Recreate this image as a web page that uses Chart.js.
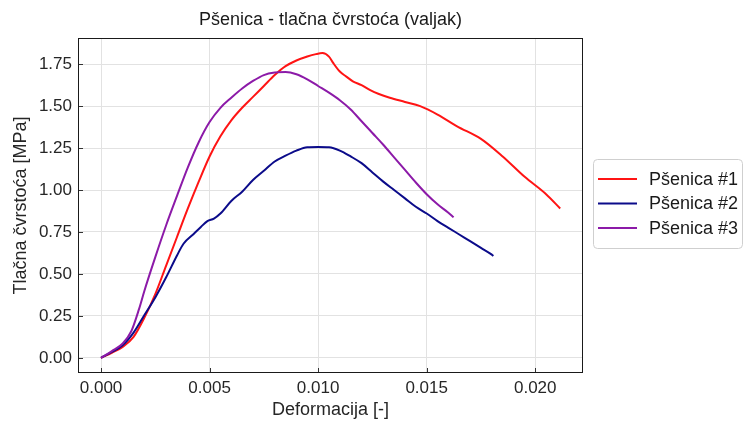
<!DOCTYPE html>
<html>
<head>
<meta charset="utf-8">
<script src="https://cdn.jsdelivr.net/npm/chart.js@4.4.1/dist/chart.umd.min.js"></script>
<style>
  html, body { margin: 0; padding: 0; background: #ffffff; }
  #wrap { width: 745px; height: 421px; }
</style>
</head>
<body>
<div id="wrap"><canvas id="c" width="745" height="421"></canvas></div>
<script>
// Texts
const chartTitle = 'Pšenica - tlačna čvrstoća (valjak)';
const xAxisLabel = 'Deformacija [-]';
const yAxisLabel = 'Tlačna čvrstoća [MPa]';
const seriesNames = ['Pšenica #1', 'Pšenica #2', 'Pšenica #3'];

// Tick values
const xTicks = [0.000, 0.005, 0.010, 0.015, 0.020];
const yTicks = [0.00, 0.25, 0.50, 0.75, 1.00, 1.25, 1.50, 1.75];

// Sample 1: strain [-] and stress [MPa]
const strain1 = [0, 0.0005, 0.001, 0.0015, 0.002, 0.0025, 0.003, 0.0035, 0.004, 0.0045,
  0.005, 0.0055, 0.006, 0.0065, 0.007, 0.0075, 0.008, 0.0085, 0.009, 0.0095,
  0.0099, 0.0102, 0.0105, 0.0107, 0.011, 0.0113, 0.0116, 0.012, 0.0124, 0.0128,
  0.0133, 0.014, 0.0147, 0.0155, 0.0164, 0.0175, 0.0185, 0.0195, 0.0205, 0.02115];
const stress1 = [0, 0.03, 0.065, 0.125, 0.24, 0.38, 0.55, 0.72, 0.89, 1.05,
  1.20, 1.32, 1.415, 1.49, 1.555, 1.62, 1.685, 1.738, 1.772, 1.796,
  1.81, 1.816, 1.795, 1.756, 1.706, 1.676, 1.648, 1.625, 1.595, 1.572,
  1.55, 1.525, 1.50, 1.45, 1.38, 1.305, 1.20, 1.08, 0.975, 0.89];

// Sample 2
const strain2 = [0, 0.0005, 0.001, 0.0015, 0.002, 0.0025, 0.003, 0.0035, 0.0038, 0.0042,
  0.0046, 0.0049, 0.0052, 0.0055, 0.006, 0.0065, 0.007, 0.0075, 0.008, 0.0085,
  0.009, 0.0095, 0.01, 0.0105, 0.011, 0.0115, 0.012, 0.0125, 0.013, 0.0135,
  0.014, 0.0145, 0.015, 0.0155, 0.016, 0.0165, 0.017, 0.0175, 0.018, 0.01807];
const stress2 = [0, 0.035, 0.075, 0.15, 0.255, 0.36, 0.48, 0.61, 0.68, 0.73,
  0.78, 0.815, 0.83, 0.86, 0.935, 0.99, 1.06, 1.115, 1.17, 1.205,
  1.235, 1.255, 1.257, 1.255, 1.235, 1.20, 1.16, 1.105, 1.05, 1.0,
  0.95, 0.90, 0.86, 0.815, 0.775, 0.735, 0.695, 0.655, 0.615, 0.607];

// Sample 3
const strain3 = [0, 0.0005, 0.001, 0.0014, 0.00175, 0.002, 0.0025, 0.003, 0.0035, 0.004, 0.0045,
  0.005, 0.0055, 0.006, 0.0065, 0.007, 0.0075, 0.008, 0.0085, 0.009, 0.0095,
  0.01, 0.0105, 0.011, 0.0115, 0.012, 0.0125, 0.013, 0.0135, 0.014, 0.0145,
  0.015, 0.0155, 0.016, 0.01624];
const stress3 = [0, 0.04, 0.085, 0.16, 0.29, 0.40, 0.60, 0.79, 0.965, 1.135, 1.285,
  1.405, 1.49, 1.55, 1.605, 1.65, 1.685, 1.70, 1.703, 1.69, 1.66,
  1.62, 1.58, 1.535, 1.48, 1.41, 1.34, 1.27, 1.195, 1.12, 1.045,
  0.975, 0.915, 0.865, 0.838];

const seriesColors = ['#ff1414', '#0b0b8a', '#8c1aa8'];
const FONT = "'Liberation Sans', Arial, Helvetica, sans-serif";
const TEXT = '#262626';

function toPoints(xs, ys) { return xs.map((x, i) => ({ x: x, y: ys[i] })); }

const datasets = [
  [strain1, stress1], [strain2, stress2], [strain3, stress3]
].map(([xs, ys], i) => ({
  label: seriesNames[i],
  data: toPoints(xs, ys),
  borderColor: seriesColors[i],
  backgroundColor: seriesColors[i],
  borderWidth: 2,
  pointRadius: 0,
  showLine: true,
  cubicInterpolationMode: 'monotone',
  order: 3 - i
}));

// Frame, inward ticks, title and boxed legend
const decorations = {
  id: 'decorations',
  afterDraw(chart) {
    const { ctx, chartArea: a, scales } = chart;
    ctx.save();
    // inward ticks
    ctx.strokeStyle = '#333333';
    ctx.lineWidth = 1;
    ctx.beginPath();
    xTicks.forEach(v => {
      const px = Math.round(scales.x.getPixelForValue(v)) + 0.5;
      ctx.moveTo(px, a.bottom); ctx.lineTo(px, a.bottom - 5);
    });
    yTicks.forEach(v => {
      const py = Math.round(scales.y.getPixelForValue(v)) + 0.5;
      ctx.moveTo(a.left, py); ctx.lineTo(a.left + 5, py);
    });
    ctx.stroke();
    // frame
    ctx.strokeStyle = '#1a1a1a';
    ctx.strokeRect(Math.round(a.left) + 0.5, Math.round(a.top) + 0.5,
      Math.round(a.right - a.left) - 1, Math.round(a.bottom - a.top) - 1);
    // title
    ctx.fillStyle = '#1a1a1a';
    ctx.font = '18px ' + FONT;
    ctx.textAlign = 'center';
    ctx.textBaseline = 'middle';
    ctx.fillText(chartTitle, (a.left + a.right) / 2, 20);
    // legend
    const lx = 593, ly = 159, lw = 149, lh = 89;
    ctx.beginPath();
    ctx.roundRect(lx + 0.5, ly + 0.5, lw, lh, 4);
    ctx.fillStyle = 'rgba(255,255,255,0.9)';
    ctx.fill();
    ctx.strokeStyle = '#cfcfcf';
    ctx.stroke();
    ctx.textAlign = 'left';
    ctx.font = '18px ' + FONT;
    chart.data.datasets.forEach((ds, i) => {
      const y = 179 + i * 24.5;
      ctx.strokeStyle = ds.borderColor;
      ctx.lineWidth = 2;
      ctx.beginPath();
      ctx.moveTo(598, y); ctx.lineTo(637, y);
      ctx.stroke();
      ctx.fillStyle = '#1a1a1a';
      ctx.fillText(ds.label, 649, y + 1);
    });
    ctx.restore();
  }
};

new Chart(document.getElementById('c'), {
  type: 'scatter',
  data: { datasets: datasets },
  options: {
    responsive: false,
    animation: false,
    devicePixelRatio: 1,
    layout: { padding: { top: 38, right: 162, bottom: 0, left: 0 } },
    plugins: { legend: { display: false }, title: { display: false }, tooltip: { enabled: false } },
    scales: {
      x: {
        type: 'linear',
        min: -0.00106, max: 0.0222,
        afterBuildTicks: s => { s.ticks = xTicks.map(v => ({ value: v })); },
        afterFit: s => { s.height = 48; },
        ticks: {
          callback: v => v.toFixed(3),
          font: { family: FONT, size: 17 }, color: TEXT, padding: 5, maxRotation: 0
        },
        grid: { color: '#e2e2e2', lineWidth: 1, drawTicks: false },
        border: { display: false },
        title: { display: true, text: xAxisLabel, font: { family: FONT, size: 18 }, color: TEXT,
          padding: { top: 0, bottom: 0 } }
      },
      y: {
        type: 'linear',
        min: -0.0905, max: 1.906,
        afterBuildTicks: s => { s.ticks = yTicks.map(v => ({ value: v })); },
        afterFit: s => { s.width = 78; },
        ticks: {
          callback: v => v.toFixed(2),
          font: { family: FONT, size: 17 }, color: TEXT, padding: 6
        },
        grid: { color: '#e2e2e2', lineWidth: 1, drawTicks: false },
        border: { display: false },
        title: { display: true, text: yAxisLabel, font: { family: FONT, size: 18 }, color: TEXT,
          padding: { top: 10, bottom: 0 } }
      }
    }
  },
  plugins: [decorations]
});
</script>
</body>
</html>
